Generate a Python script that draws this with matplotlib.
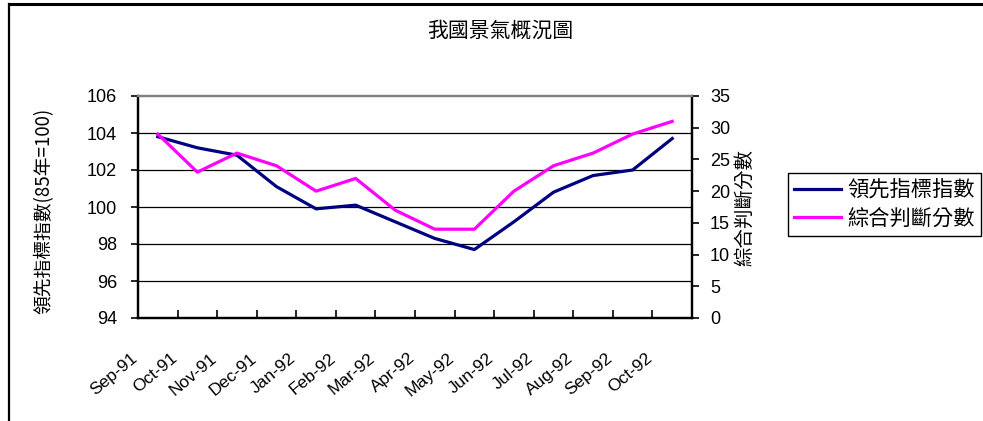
import matplotlib
matplotlib.use("Agg")
import matplotlib.pyplot as plt
from matplotlib.lines import Line2D
from matplotlib.transforms import ScaledTranslation

# ---- Data ----
months = ["Sep-91", "Oct-91", "Nov-91", "Dec-91", "Jan-92", "Feb-92", "Mar-92",
          "Apr-92", "May-92", "Jun-92", "Jul-92", "Aug-92", "Sep-92", "Oct-92"]
leading_index = [103.8, 103.2, 102.8, 101.1, 99.9, 100.1, 99.2,
                 98.3, 97.7, 99.2, 100.8, 101.7, 102.0, 103.7]
judgment_score = [29, 23, 26, 24, 20, 22, 17, 14, 14, 20, 24, 26, 29, 31]
left_ticks = [94, 96, 98, 100, 102, 104, 106]
right_ticks = [0, 5, 10, 15, 20, 25, 30, 35]

cjk = ["Noto Sans CJK TC", "DejaVu Sans"]
num_font = "Liberation Sans"
narrow_font = ["Liberation Sans Narrow", "Liberation Sans"]
navy = "#000080"
magenta = "#FF00FF"

# ---- Plot ----
fig = plt.figure(figsize=(9.83, 4.21), dpi=100, facecolor="white")
ax = fig.add_axes([138 / 983, 1 - 318 / 421, (692 - 138) / 983, (318 - 96) / 421])
ax2 = ax.twinx()

x = list(range(len(months)))
ax.plot(x, leading_index, color=navy, linewidth=2.3, zorder=3)
ax2.plot(x, judgment_score, color=magenta, linewidth=2.3, zorder=3)

ax.set_xlim(-0.5, len(months) - 0.5)
ax.set_ylim(94, 106)
ax2.set_ylim(0, 35)
ax.set_yticks(left_ticks)
ax2.set_yticks(right_ticks)
for t in left_ticks[1:-1]:
    ax.axhline(t, color="black", linewidth=0.9, zorder=1)

# x ticks: labels at category centres, tick marks at boundaries pointing inward
ax.set_xticks(x)
ax.set_xticklabels(months, rotation=40, ha="right", va="center",
                   rotation_mode="anchor", fontsize=12.5, family=narrow_font)
ax.tick_params(axis="x", which="major", length=0, pad=0)
ax.set_xticks([i + 0.5 for i in x[:-1]], minor=True)
ax.tick_params(axis="x", which="minor", direction="in", length=6, width=1.2, color="black")
shift = ScaledTranslation(-0.22, -0.38, fig.dpi_scale_trans)
for lab in ax.get_xticklabels():
    lab.set_transform(lab.get_transform() + shift)

ax.tick_params(axis="y", direction="out", length=5, width=1.2, pad=10, labelsize=13)
ax2.tick_params(axis="y", direction="out", length=5, width=1.2, pad=8, labelsize=13)
for lab in ax.get_yticklabels() + ax2.get_yticklabels():
    lab.set_family(num_font)

for a in (ax, ax2):
    for side in ("left", "right", "bottom"):
        a.spines[side].set_color("black")
        a.spines[side].set_linewidth(1.6)
    a.spines["top"].set_color("#808080")
    a.spines["top"].set_linewidth(1.6)

# Titles and axis labels
fig.text(500 / 983, 1 - 31 / 421, "我國景氣概況圖", ha="center", va="center",
         fontsize=15, family=cjk)
fig.text(44 / 983, 1 - 211 / 421, "領先指標指數(85年=100)", rotation=90,
         ha="center", va="center", fontsize=13.5, family=cjk)
fig.text(745 / 983, 1 - 208 / 421, "綜合判斷分數", rotation=90,
         ha="center", va="center", fontsize=14, family=cjk)

# Legend
handles = [Line2D([], [], color=navy, linewidth=2.3),
           Line2D([], [], color=magenta, linewidth=2.3)]
leg = fig.legend(handles, ["領先指標指數", "綜合判斷分數"], loc="upper left",
                 bbox_to_anchor=(788 / 983, 1 - 173 / 421), bbox_transform=fig.transFigure,
                 borderaxespad=0, fancybox=False, edgecolor="black", framealpha=1,
                 handlelength=2.2, handletextpad=0.3, borderpad=0.3, labelspacing=0.3,
                 prop={"family": cjk, "size": 15.3})
leg.get_frame().set_linewidth(1.0)

# Outer chart frame (top and left edges)
fig.add_artist(Line2D([9 / 983, 1], [1 - 4 / 421, 1 - 4 / 421], color="black",
                      linewidth=2.2, transform=fig.transFigure))
fig.add_artist(Line2D([9 / 983, 9 / 983], [0, 1 - 4 / 421], color="black",
                      linewidth=1.6, transform=fig.transFigure))

fig.savefig("out.png", dpi=100, facecolor="white")
plt.close()
